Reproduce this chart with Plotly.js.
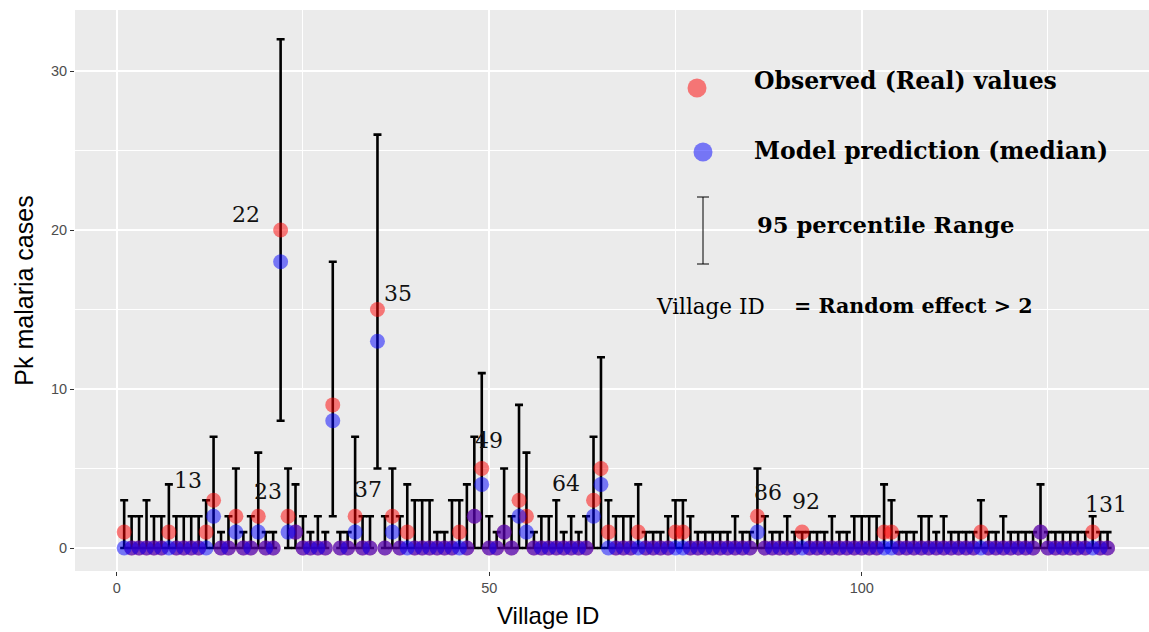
<!DOCTYPE html>
<html>
<head>
<meta charset="utf-8">
<script src="https://cdn.plot.ly/plotly-3.0.1.min.js"></script>
<style>
  html, body { margin: 0; padding: 0; background: #ffffff; }
  #chart { width: 1149px; height: 632px; }
</style>
</head>
<body>
<div id="chart"></div>
<script>
// ---- Data ----
const villageId = Array.from({length: 133}, (_, i) => i + 1);

const observed = [
  1,0,0,0,0,0,1,0,0,0, 0,1,3,0,0,2,0,0,2,0,
  0,20,2,1,0,0,0,0,9,0, 0,2,0,0,15,0,2,0,1,0,
  0,0,0,0,0,1,0,2,5,0, 0,1,0,3,2,0,0,0,0,0,
  0,0,0,3,5,1,0,0,0,1, 0,0,0,0,1,1,0,0,0,0,
  0,0,0,0,0,2,0,0,0,0, 0,1,0,0,0,0,0,0,0,0,
  0,0,1,1,0,0,0,0,0,0, 0,0,0,0,0,1,0,0,0,0,
  0,0,0,1,0,0,0,0,0,0, 1,0,0
];

const predicted = [
  0,0,0,0,0,0,0,0,0,0, 0,0,2,0,0,1,0,0,1,0,
  0,18,1,1,0,0,0,0,8,0, 0,1,0,0,13,0,1,0,0,0,
  0,0,0,0,0,0,0,2,4,0, 0,1,0,2,1,0,0,0,0,0,
  0,0,0,2,4,0,0,0,0,0, 0,0,0,0,0,0,0,0,0,0,
  0,0,0,0,0,1,0,0,0,0, 0,0,0,0,0,0,0,0,0,0,
  0,0,0,0,0,0,0,0,0,0, 0,0,0,0,0,0,0,0,0,0,
  0,0,0,1,0,0,0,0,0,0, 0,0,0
];

const upper95 = [
  3,2,2,3,2,2,4,2,2,2, 2,3,7,1,2,5,1,2,6,1,
  1,32,5,4,2,1,2,1,18,1, 1,7,2,2,26,2,5,2,4,3,
  3,3,1,1,3,3,4,7,11,2, 1,5,2,9,6,1,2,2,3,1,
  2,1,2,7,12,3,2,2,2,4, 1,1,1,2,3,3,2,1,1,1,
  1,1,2,1,1,5,2,1,1,2, 1,1,1,1,1,2,1,1,2,2,
  2,2,4,3,1,1,1,2,2,1, 2,1,1,1,1,3,1,1,2,1,
  1,1,1,4,1,1,1,1,1,1, 2,1,1
];

const lower95 = [
  0,0,0,0,0,0,0,0,0,0, 0,0,0,0,0,0,0,0,0,0,
  0,8,0,0,0,0,0,0,2,0, 0,0,0,0,5,0,0,0,0,0,
  0,0,0,0,0,0,0,0,0,0, 0,0,0,0,0,0,0,0,0,0,
  0,0,0,0,0,0,0,0,0,0, 0,0,0,0,0,0,0,0,0,0,
  0,0,0,0,0,0,0,0,0,0, 0,0,0,0,0,0,0,0,0,0,
  0,0,0,0,0,0,0,0,0,0, 0,0,0,0,0,0,0,0,0,0,
  0,0,0,0,0,0,0,0,0,0, 0,0,0
];

// villages with random effect > 2 (labelled)
const labelledVillages = [13, 22, 23, 35, 37, 49, 64, 86, 92, 131];

const xTickVals = [0, 50, 100];
const xTickText = ['0', '50', '100'];
const yTickVals = [0, 10, 20, 30];
const yTickText = ['0', '10', '20', '30'];

const xTitle = 'Village ID';
const yTitle = 'Pk malaria cases';

const legendTexts = {
  observed: 'Observed (Real) values',
  predicted: 'Model prediction (median)',
  range: '95 percentile Range',
  idLabel: 'Village ID',
  idMeaning: '= Random effect > 2'
};

// ---- Layout geometry ----
const W = 1149, H = 632;
const M = {l: 75, r: 0, t: 10, b: 61};
const PW = W - M.l - M.r, PH = H - M.t - M.b;
const px2x = px => (px - M.l) / PW;
const py2y = py => (H - M.b - py) / PH;

// label pixel offsets relative to the observed point
const labelShift = {
  13: [-26, 20], 22: [-35, 16], 23: [-20, 25], 35: [21, 16], 37: [-24, 27],
  49: [7, 28], 64: [-28, 17], 86: [11, 24], 92: [4, 31], 131: [13, 28]
};

const serif = 'DejaVu Serif, Liberation Serif, serif';
const sans = 'Liberation Sans, Arial, sans-serif';

const traces = [
  {
    type: 'scatter', mode: 'markers',
    x: villageId, y: lower95,
    marker: {color: 'rgba(0,0,0,0)', size: 1},
    error_y: {
      type: 'data', symmetric: false,
      array: upper95.map((u, i) => u - lower95[i]),
      arrayminus: lower95.map(() => 0),
      color: '#000000', thickness: 2.6, width: 4
    },
    hoverinfo: 'skip'
  },
  {
    type: 'scatter', mode: 'markers', name: 'Observed',
    x: villageId, y: observed,
    marker: {color: 'rgba(255,0,0,0.5)', size: 15, line: {width: 0}}
  },
  {
    type: 'scatter', mode: 'markers', name: 'Predicted',
    x: villageId, y: predicted,
    marker: {color: 'rgba(0,0,255,0.5)', size: 15, line: {width: 0}}
  }
];

const annotations = labelledVillages.map(v => ({
  x: v, y: observed[v - 1], xref: 'x', yref: 'y',
  text: String(v), showarrow: false,
  xshift: labelShift[v][0], yshift: labelShift[v][1],
  font: {family: serif, size: 22, color: '#111111'}
}));

annotations.push(
  {xref: 'paper', yref: 'paper', x: px2x(752), y: py2y(81), xanchor: 'left', yanchor: 'middle',
   text: '<b>' + legendTexts.observed + '</b>', showarrow: false,
   font: {family: serif, size: 23.5, color: '#000000'}},
  {xref: 'paper', yref: 'paper', x: px2x(752), y: py2y(151), xanchor: 'left', yanchor: 'middle',
   text: '<b>' + legendTexts.predicted + '</b>', showarrow: false,
   font: {family: serif, size: 23.5, color: '#000000'}},
  {xref: 'paper', yref: 'paper', x: px2x(755), y: py2y(225), xanchor: 'left', yanchor: 'middle',
   text: '<b>' + legendTexts.range + '</b>', showarrow: false,
   font: {family: serif, size: 22.7, color: '#000000'}},
  {xref: 'paper', yref: 'paper', x: px2x(654), y: py2y(306), xanchor: 'left', yanchor: 'middle',
   text: legendTexts.idLabel, showarrow: false,
   font: {family: serif, size: 21.5, color: '#000000'}},
  {xref: 'paper', yref: 'paper', x: px2x(792), y: py2y(306), xanchor: 'left', yanchor: 'middle',
   text: '<b>' + legendTexts.idMeaning + '</b>', showarrow: false,
   font: {family: serif, size: 20.6, color: '#000000'}},
  // x-axis title (centred where the reference places it)
  {xref: 'paper', yref: 'paper', x: px2x(548), y: py2y(615), xanchor: 'center', yanchor: 'middle',
   text: xTitle, showarrow: false,
   font: {family: sans, size: 24, color: '#000000'}}
);

function dot(cx, cy, r, color) {
  return {
    type: 'circle', xref: 'paper', yref: 'paper',
    xsizemode: 'pixel', ysizemode: 'pixel',
    xanchor: px2x(cx), yanchor: py2y(cy),
    x0: -r, x1: r, y0: -r, y1: r,
    fillcolor: color, line: {width: 0}
  };
}
function seg(x0, y0, x1, y1) {
  return {
    type: 'line', xref: 'paper', yref: 'paper',
    x0: px2x(x0), y0: py2y(y0), x1: px2x(x1), y1: py2y(y1),
    line: {color: '#000000', width: 1}
  };
}

const shapes = [
  dot(697, 88, 9.5, 'rgba(255,0,0,0.5)'),
  dot(703, 152, 9.5, 'rgba(0,0,255,0.5)'),
  seg(703, 197, 703, 264),
  seg(697, 197, 709, 197),
  seg(697, 264, 709, 264)
];

const layout = {
  width: W, height: H,
  margin: M,
  paper_bgcolor: '#ffffff',
  plot_bgcolor: '#EBEBEB',
  showlegend: false,
  hovermode: false,
  xaxis: {
    range: [-5.6, -5.6 + PW / 7.45],
    tickmode: 'array', tickvals: xTickVals, ticktext: xTickText,
    showgrid: true, gridcolor: '#ffffff', gridwidth: 2,
    minor: {tickmode: 'linear', tick0: 0, dtick: 25, showgrid: true, gridcolor: '#ffffff', gridwidth: 1, ticks: ''},
    zeroline: false, showline: false,
    ticks: 'outside', ticklen: 4, tickwidth: 1, tickcolor: '#333333',
    tickfont: {family: sans, size: 14.5, color: '#4D4D4D'}
  },
  yaxis: {
    tickmode: 'array', tickvals: yTickVals, ticktext: yTickText,
    showgrid: true, gridcolor: '#ffffff', gridwidth: 2,
    minor: {tickmode: 'linear', tick0: 0, dtick: 5, showgrid: true, gridcolor: '#ffffff', gridwidth: 1, ticks: ''},
    zeroline: false, showline: false,
    ticks: 'outside', ticklen: 4, tickwidth: 1, tickcolor: '#333333',
    tickfont: {family: sans, size: 14.5, color: '#4D4D4D'},
    title: {text: yTitle, standoff: 10,
            font: {family: sans, size: 25, color: '#000000'}}
  },
  annotations: annotations,
  shapes: shapes
};

// y range: y=0 at pixel 548, 15.9 px per unit
const yBottomPx = H - M.b, yTopPx = M.t;
layout.yaxis.range = [(548 - yBottomPx) / 15.9, (548 - yTopPx) / 15.9];

Plotly.newPlot('chart', traces, layout, {displayModeBar: false, staticPlot: true});
</script>
</body>
</html>
